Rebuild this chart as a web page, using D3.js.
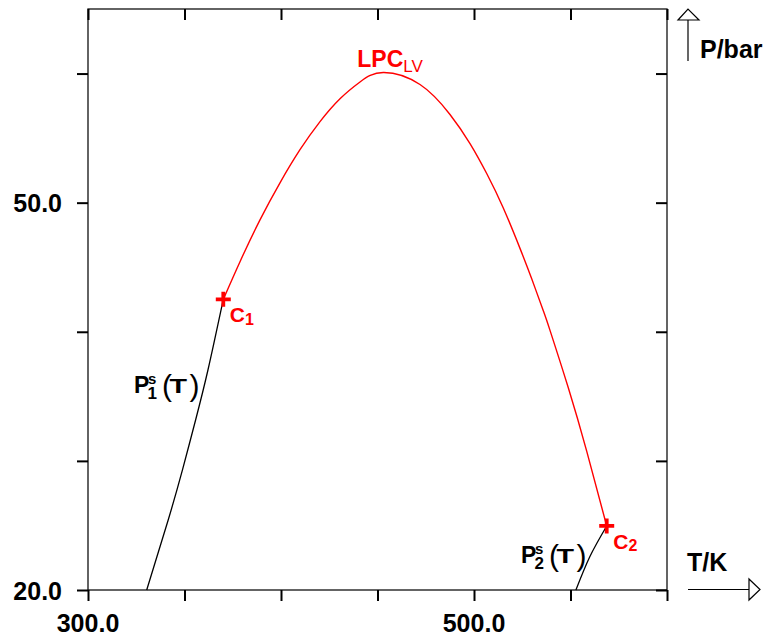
<!DOCTYPE html>
<html><head><meta charset="utf-8">
<script src="https://cdn.jsdelivr.net/npm/d3@7"></script>
<style>
html,body{margin:0;padding:0;background:#fff;}
svg{display:block;font-family:"Liberation Sans",Arial,Helvetica,sans-serif;}
</style></head>
<body>
<svg id="chart" width="765" height="637"></svg>
<script>
// ---- data ----
const xTicks = [300, 350, 400, 450, 500, 550, 600];
const yTicks = [20, 30, 40, 50, 60];
const xTickLabels = [300, 500];
const yTickLabels = [20, 50];

const p1T = [330.41, 341.55, 348.91, 355.75, 362.15, 370.10];
const p1P = [20.0, 25.42, 29.29, 33.17, 37.04, 42.51];

const lpcT = [370.10, 378.76, 389.12, 399.48, 409.84, 420.21, 430.57, 440.93, 453.01, 472.02, 487.56, 497.93, 506.58, 515.18, 523.83, 529.90, 535.91, 539.38, 548.86, 558.39, 568.76];
const lpcP = [42.51, 45.43, 48.67, 51.54, 54.10, 56.28, 58.05, 59.35, 60.08, 59.15, 56.83, 54.58, 52.26, 49.59, 46.46, 44.10, 41.63, 40.11, 35.66, 30.76, 24.96];

const p2T = [552.8, 560.0, 568.76];
const p2P = [20.0, 22.58, 24.96];

const critT = [370.10, 568.76];
const critP = [42.51, 24.96];
const critNames = ["1", "2"];

// ---- chart ----
const svg = d3.select("#chart");
const xS = d3.scaleLinear().domain([300, 600]).range([88, 667]);
const yS = d3.scaleLinear().domain([20, 65]).range([590, 9]);
const tickLen = 11;

// frame
svg.append("rect").attr("x", xS(300)).attr("y", yS(65)).attr("width", xS(600) - xS(300)).attr("height", yS(20) - yS(65))
  .attr("fill", "none").attr("stroke", "#111").attr("stroke-width", 1.3);

const axBottom = d3.axisBottom(xS).tickValues(xTicks).tickSize(tickLen).tickFormat("");
const gb = svg.append("g").attr("transform", `translate(0,${yS(20)})`).call(axBottom);
const axTop = d3.axisBottom(xS).tickValues(xTicks).tickSize(tickLen).tickFormat("");
const gt = svg.append("g").attr("transform", `translate(0,${yS(65)})`).call(axTop);
const axLeft = d3.axisLeft(yS).tickValues(yTicks).tickSize(tickLen).tickFormat("");
const gl = svg.append("g").attr("transform", `translate(${xS(300)},0)`).call(axLeft);
const axRight = d3.axisLeft(yS).tickValues(yTicks).tickSize(tickLen).tickFormat("");
const gr = svg.append("g").attr("transform", `translate(${xS(600)},0)`).call(axRight);
[gb, gt, gl, gr].forEach(a => {
  a.select(".domain").remove();
  a.selectAll(".tick line").attr("stroke", "#000").attr("stroke-width", 2);
});

// tick labels
svg.append("g").selectAll("text").data(xTickLabels).join("text")
  .attr("x", d => xS(d)).attr("y", 632)
  .attr("text-anchor", "middle").attr("font-size", 25).attr("font-weight", "bold")
  .text(d => d3.format(".1f")(d));
svg.append("g").selectAll("text").data(yTickLabels).join("text")
  .attr("x", 62).attr("y", d => yS(d) + 9.5)
  .attr("text-anchor", "end").attr("font-size", 25).attr("font-weight", "bold")
  .text(d => d3.format(".1f")(d));

// axis arrows
svg.append("line").attr("x1", 688).attr("y1", 61).attr("x2", 688).attr("y2", 20).attr("stroke", "#000").attr("stroke-width", 1.2);
svg.append("path").attr("d", "M678,20 L688,9 L699,20 Z").attr("fill", "#fff").attr("stroke", "#000").attr("stroke-width", 1.2);
svg.append("text").attr("x", 700).attr("y", 58).attr("font-size", 25).attr("font-weight", "bold").text("P/bar");

svg.append("line").attr("x1", 688).attr("y1", 589.5).attr("x2", 749).attr("y2", 589.5).attr("stroke", "#000").attr("stroke-width", 1.2);
svg.append("path").attr("d", "M749,579 L760,589.5 L749,600 Z").attr("fill", "#fff").attr("stroke", "#000").attr("stroke-width", 1.2);
svg.append("text").attr("x", 687).attr("y", 570.5).attr("font-size", 25).attr("font-weight", "bold").text("T/K");

// curves
const line = d3.line().x(d => xS(d[0])).y(d => yS(d[1])).curve(d3.curveNatural);
svg.append("path").datum(p1T.map((t, i) => [t, p1P[i]])).attr("d", line)
  .attr("fill", "none").attr("stroke", "#000").attr("stroke-width", 1.3);
svg.append("path").datum(p2T.map((t, i) => [t, p2P[i]])).attr("d", line)
  .attr("fill", "none").attr("stroke", "#000").attr("stroke-width", 1.3);
svg.append("path").datum(lpcT.map((t, i) => [t, lpcP[i]])).attr("d", line)
  .attr("fill", "none").attr("stroke", "#ff0000").attr("stroke-width", 1.4);

// critical points
const crit = svg.append("g").selectAll("g").data(critT.map((t, i) => ({t, p: critP[i], n: critNames[i]}))).join("g")
  .attr("transform", d => `translate(${xS(d.t)},${yS(d.p)})`);
crit.append("path").attr("d", "M-7.5,0 H7.5 M0,-7.5 V7.5").attr("stroke", "#ff0000").attr("stroke-width", 3.8);
const ct = crit.append("text").attr("x", 6.5).attr("y", 23).attr("fill", "#ff0000").attr("font-weight", "bold").attr("font-size", 21);
ct.append("tspan").text("C");
ct.append("tspan").attr("font-size", 16).attr("dy", 2.5).text(d => d.n);

// LPC label
const peakI = d3.maxIndex(lpcP);
const lpc = svg.append("text").attr("x", xS(lpcT[peakI]) - 26).attr("y", 67).attr("fill", "#ff0000").attr("font-weight", "bold").attr("font-size", 23);
lpc.append("tspan").text("LPC");
lpc.append("tspan").attr("font-size", 17).attr("font-weight", "normal").attr("dy", 4.5).text("LV");

// P^s_i(T) labels, one text element each
function psLabel(xp, yb, idx) {
  const t = svg.append("text").attr("font-weight", "bold").attr("fill", "#000");
  t.append("tspan").attr("x", xp).attr("y", yb).attr("font-size", 23).text("P");
  t.append("tspan").attr("x", xp + 14).attr("y", yb - 9.5).attr("font-size", 15).text("s");
  t.append("tspan").attr("x", xp + 13.5).attr("y", yb + 6).attr("font-size", 17).text(idx);
  t.append("tspan").attr("x", xp + 28).attr("y", yb + 2.5).attr("font-size", 30).attr("font-weight", "normal").text("(");
  t.append("tspan").attr("x", xp + 35.5).attr("y", yb).attr("font-size", 20)
    .attr("textLength", 17.5).attr("lengthAdjust", "spacingAndGlyphs").text("T");
  t.append("tspan").attr("x", xp + 55.5).attr("y", yb + 2.5).attr("font-size", 30).attr("font-weight", "normal").text(")");
}
psLabel(134, 393, "1");
psLabel(521, 563, "2");
</script>
</body></html>
